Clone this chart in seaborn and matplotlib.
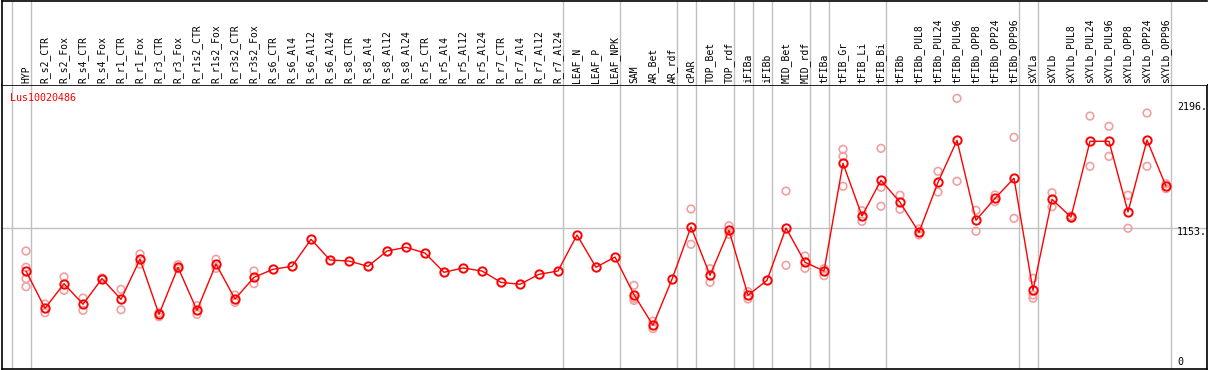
import matplotlib
matplotlib.use("Agg")
import matplotlib.pyplot as plt
import pandas as pd
import seaborn as sns

gene = "Lus10020486"

samples = [
    "HYP", "R_s2_CTR", "R_s2_Fox", "R_s4_CTR", "R_s4_Fox", "R_r1_CTR", "R_r1_Fox",
    "R_r3_CTR", "R_r3_Fox", "R_r1s2_CTR", "R_r1s2_Fox", "R_r3s2_CTR", "R_r3s2_Fox",
    "R_s6_CTR", "R_s6_Al4", "R_s6_Al12", "R_s6_Al24", "R_s8_CTR", "R_s8_Al4",
    "R_s8_Al12", "R_s8_Al24", "R_r5_CTR", "R_r5_Al4", "R_r5_Al12", "R_r5_Al24",
    "R_r7_CTR", "R_r7_Al4", "R_r7_Al12", "R_r7_Al24", "LEAF_N", "LEAF_P", "LEAF_NPK",
    "SAM", "AR_Bet", "AR_rdf", "cPAR", "TOP_Bet", "TOP_rdf", "iFIBa", "iFIBb",
    "MID_Bet", "MID_rdf", "tFIBa", "tFIB_Gr", "tFIB_Li", "tFIB_Bi", "tFIBb",
    "tFIBb_PUL8", "tFIBb_PUL24", "tFIBb_PUL96", "tFIBb_OPP8", "tFIBb_OPP24",
    "tFIBb_OPP96", "sXYLa", "sXYLb", "sXYLb_PUL8", "sXYLb_PUL24", "sXYLb_PUL96",
    "sXYLb_OPP8", "sXYLb_OPP24", "sXYLb_OPP96",
]

means = [
    794, 482, 688, 516, 730, 557, 892, 432, 825, 465, 852, 560, 741,
    808, 833, 1059, 886, 877, 833, 961, 992, 944, 783, 819, 794,
    699, 683, 766, 794, 1095, 825, 911,
    596, 340, 725, 1162, 758, 1134, 591, 716,
    1153, 867, 794, 1694, 1254, 1552, 1368,
    1117, 1535, 1886, 1218, 1401, 1569,
    633, 1393, 1245, 1878, 1878, 1287, 1889, 1502,
]

# replicate measurements (sample -> values)
replicates = {
    "HYP": [961, 825, 730, 663],
    "R_s2_CTR": [518, 445],
    "R_s2_Fox": [744, 633],
    "R_s4_CTR": [568, 465],
    "R_s4_Fox": [735, 725],
    "R_r1_CTR": [641, 470],
    "R_r1_Fox": [936, 852],
    "R_r3_CTR": [445, 412],
    "R_r3_Fox": [847, 813],
    "R_r1s2_CTR": [504, 432],
    "R_r1s2_Fox": [892, 816],
    "R_r3s2_CTR": [593, 532],
    "R_r3s2_Fox": [794, 688],
    "SAM": [674, 566, 548],
    "AR_Bet": [374, 312],
    "cPAR": [1312, 1017],
    "TOP_Bet": [813, 699],
    "TOP_rdf": [1172, 1100],
    "iFIBa": [621, 560],
    "MID_Bet": [1462, 842],
    "MID_rdf": [919, 816],
    "tFIBa": [813, 755],
    "tFIB_Gr": [1811, 1752, 1502],
    "tFIB_Li": [1298, 1209],
    "tFIB_Bi": [1819, 1493, 1335],
    "tFIBb": [1427, 1310],
    "tFIBb_PUL8": [1145, 1095],
    "tFIBb_PUL24": [1627, 1454],
    "tFIBb_PUL96": [2237, 1544],
    "tFIBb_OPP8": [1301, 1126],
    "tFIBb_OPP24": [1429, 1373],
    "tFIBb_OPP96": [1911, 1234],
    "sXYLa": [733, 593, 566],
    "sXYLb": [1448, 1331],
    "sXYLb_PUL8": [1255, 1235],
    "sXYLb_PUL24": [2089, 1669],
    "sXYLb_PUL96": [2003, 1752],
    "sXYLb_OPP8": [1427, 1151],
    "sXYLb_OPP24": [2114, 1669],
    "sXYLb_OPP96": [1523, 1482],
}

# last sample index of each tissue group (separator drawn after it)
group_ends = [-1, 0, 28, 31, 34, 35, 37, 38, 39, 41, 42, 45, 52, 53, 60]

y_ticks = [0, 1153, 2196]
y_tick_labels = ["0", "1153.", "2196."]

mean_df = pd.DataFrame({"pos": range(len(samples)), "sample": samples, "expr": means})
rep_rows = []
for s, vals in replicates.items():
    for v in vals:
        rep_rows.append({"pos": samples.index(s), "expr": v})
rep_df = pd.DataFrame(rep_rows)

sns.set_style("white")
plt.rcParams["font.family"] = ["DejaVu Sans Mono", "DejaVu Sans"]

W, H = 1209, 370
fig = plt.figure(figsize=(W / 100, H / 100), dpi=100)

# pixel layout
x0_px, x_step = 26, 19
left_px, right_px = 1.5, 1207
top_px, bot_px, zero_px = 85, 369, 366
units_per_px = 8.357

xlim = ((left_px - x0_px) / x_step, (right_px - x0_px) / x_step)
ylim = ((zero_px - bot_px) * units_per_px, (zero_px - top_px) * units_per_px)

ax = fig.add_axes([left_px / W, (H - bot_px) / H, (right_px - left_px) / W, (bot_px - top_px) / H])
hax = fig.add_axes([left_px / W, (H - top_px) / H, (right_px - left_px) / W, (top_px - 0.5) / H])

for a in (ax, hax):
    a.set_xlim(*xlim)
    for g in group_ends:
        a.axvline(g + 0.25, color="#c0c0c0", lw=1, zorder=0)
    a.set_xticks([])
    a.set_yticks([])
    for sp in a.spines.values():
        sp.set_color("black")
        sp.set_linewidth(1.2)

hax.set_ylim(0, 1)
hax.spines["bottom"].set_visible(False)
hax.spines["right"].set_visible(False)
for i, s in enumerate(samples):
    hax.text(i, 0.025, s, rotation=90, ha="center", va="bottom", fontsize=7, color="black")

ax.set_ylim(*ylim)
ax.axhline(1153, color="#c0c0c0", lw=1, zorder=0)

sns.scatterplot(data=rep_df, x="pos", y="expr", ax=ax, marker="o", s=30,
                facecolor="none", edgecolor="#f0a0a0", linewidth=1.2, zorder=2, legend=False)
sns.lineplot(data=mean_df, x="pos", y="expr", ax=ax, color="red", lw=1, zorder=3,
             marker="o", markersize=6, markerfacecolor="none", markeredgecolor="red",
             markeredgewidth=1.4)
ax.set_xlabel("")
ax.set_ylabel("")

# value labels sit just below their level, inside the right edge
tick_x = (1177 - x0_px) / x_step
for t, lab in zip(y_ticks, y_tick_labels):
    yv = t - 4 * units_per_px if t else 4 * units_per_px
    ax.text(tick_x, yv, lab, ha="left", va="center", fontsize=7.2, color="black")

ax.text((10 - x0_px) / x_step, (zero_px - 98) * units_per_px, gene, color="red",
        fontsize=7.2, ha="left", va="center")

fig.savefig("out.png", dpi=100)
